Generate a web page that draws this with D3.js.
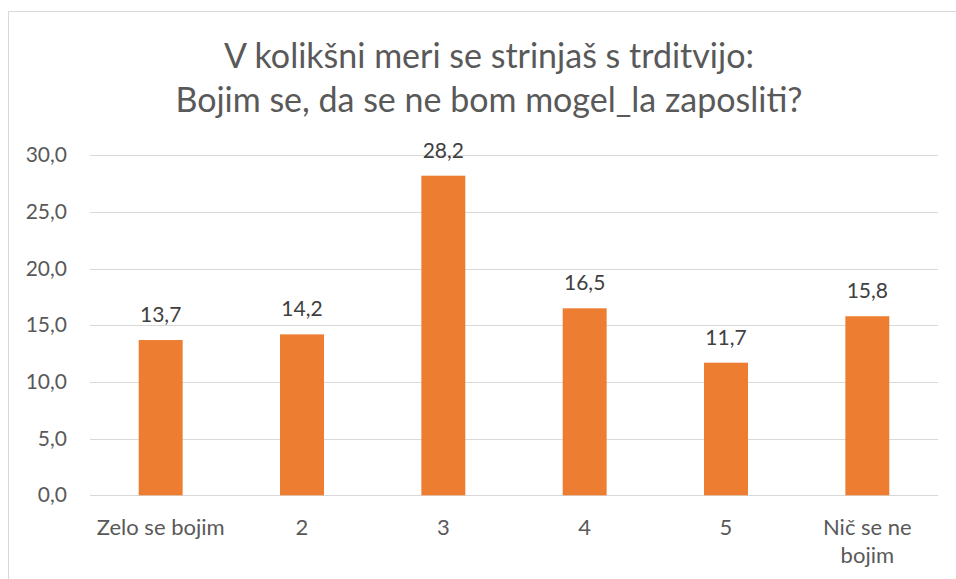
<!DOCTYPE html>
<html>
<head>
<meta charset="utf-8">
<script src="https://cdn.jsdelivr.net/npm/d3@7"></script>
<style>
  html, body { margin: 0; padding: 0; background: #fff; }
  svg { display: block; font-family: Lato, "Open Sans", sans-serif; }
</style>
</head>
<body>
<svg id="chart" width="956" height="579"></svg>
<script>
const titleLines = ['V kolikšni meri se strinjaš s trditvijo:', 'Bojim se, da se ne bom mogel_la zaposliti?'];
const categories = [['Zelo se bojim'], ['2'], ['3'], ['4'], ['5'], ['Nič se ne', 'bojim']];
const values = [13.7, 14.2, 28.2, 16.5, 11.7, 15.8];
const yTicks = [0, 5, 10, 15, 20, 25, 30];

const TEXT = '#595959';
const GRID = '#d9d9d9';
const BAR = '#ed7d31';

const svg = d3.select('#chart');
const fmt = v => d3.format('.1f')(v).replace('.', ',');

// chart area frame (right/bottom edges fall outside the picture)
svg.append('rect')
    .attr('x', 8.5).attr('y', 11.5)
    .attr('width', 1000).attr('height', 700)
    .attr('fill', 'none')
    .attr('stroke', GRID);

svg.append('text')
    .attr('text-anchor', 'middle')
    .attr('fill', TEXT)
    .style('font-size', '34px')
    .selectAll('tspan')
    .data(titleLines)
    .join('tspan')
    .attr('x', 489)
    .attr('y', (d, i) => 68 + i * 44)
    .text(d => d);

const plot = { left: 90, right: 938, top: 155.3, bottom: 495.3 };

const x = d3.scaleBand()
    .domain(d3.range(categories.length))
    .range([plot.left, plot.right]);

const y = d3.scaleLinear()
    .domain([0, 30])
    .range([plot.bottom, plot.top]);

const barW = x.bandwidth() * 0.311;

svg.append('g')
    .selectAll('line')
    .data(yTicks)
    .join('line')
    .attr('x1', plot.left).attr('x2', plot.right)
    .attr('y1', d => Math.round(y(d)) + 0.5)
    .attr('y2', d => Math.round(y(d)) + 0.5)
    .attr('stroke', GRID)
    .attr('stroke-width', 1);

svg.append('g')
    .selectAll('text')
    .data(yTicks)
    .join('text')
    .attr('x', 67)
    .attr('y', d => y(d) + 7)
    .attr('text-anchor', 'end')
    .attr('fill', TEXT)
    .style('font-size', '21px')
    .text(fmt);

svg.append('g')
    .selectAll('rect')
    .data(values)
    .join('rect')
    .attr('x', (d, i) => x(i) + (x.bandwidth() - barW) / 2)
    .attr('y', d => y(d))
    .attr('width', barW)
    .attr('height', d => y(0) - y(d))
    .attr('fill', BAR);

svg.append('g')
    .selectAll('text')
    .data(values)
    .join('text')
    .attr('x', (d, i) => x(i) + x.bandwidth() / 2)
    .attr('y', d => y(d) - 18)
    .attr('text-anchor', 'middle')
    .attr('fill', '#404040')
    .style('font-size', '21px')
    .text(fmt);

const catLabels = svg.append('g')
    .selectAll('text')
    .data(categories)
    .join('text')
    .attr('text-anchor', 'middle')
    .attr('fill', TEXT)
    .style('font-size', '22px');

catLabels.selectAll('tspan')
    .data((d, i) => d.map(line => ({ line, i })))
    .join('tspan')
    .attr('x', d => x(d.i) + x.bandwidth() / 2)
    .attr('y', (d, j) => 535 + j * 28)
    .text(d => d.line);
</script>
</body>
</html>
